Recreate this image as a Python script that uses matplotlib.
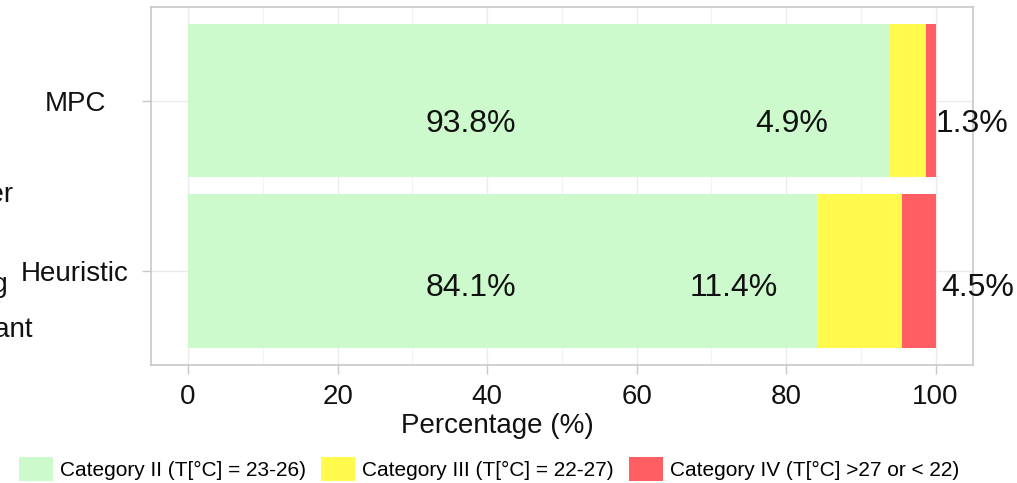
import matplotlib
matplotlib.use("Agg")
import matplotlib.pyplot as plt
from matplotlib.patches import Patch
import numpy as np

# ---- data ----
controllers = ["Heuristic", "MPC"]
cat_ii = [84.1, 93.8]
cat_iii = [11.4, 4.9]
cat_iv = [4.5, 1.3]
series_labels = ["Category II (T[°C] = 23-26)",
                 "Category III (T[°C] = 22-27)",
                 "Category IV (T[°C] >27 or < 22)"]
series_colors = ["#CCFACC", "#FFFA4B", "#FF5E62"]
# positions of the value labels (as in the original chart)
label_x = {"Heuristic": [37.8, 73.0, 105.6], "MPC": [37.8, 80.7, 104.9]}
label_dy = {"Heuristic": -0.1, "MPC": -0.14}

plt.rcParams['font.family'] = ['Liberation Sans', 'DejaVu Sans']

W, H = 1017, 483
fig = plt.figure(figsize=(W / 100, H / 100), dpi=100)
ax = fig.add_axes([150.7 / W, 1 - 365 / H, (973 - 150.7) / W, (365 - 6.7) / H])

y = np.arange(1, len(controllers) + 1)
series = [cat_ii, cat_iii, cat_iv]
left = np.zeros(len(controllers))
for vals, col in zip(series, series_colors):
    ax.barh(y, vals, left=left, height=0.9, color=col, zorder=2, linewidth=0)
    left += np.array(vals)

for i, c in enumerate(controllers):
    for j, vals in enumerate(series):
        ax.text(label_x[c][j], y[i] + label_dy[c], f"{vals[i]:.1f}%",
                ha='center', va='center', fontsize=23, color='#111111', zorder=5,
                clip_on=False)

ax.set_xlim(-5, 105)
ax.set_ylim(0.45, 2.55)
ax.set_xticks([0, 20, 40, 60, 80, 100])
ax.set_xticks([10, 30, 50, 70, 90], minor=True)
ax.set_yticks(y)
ax.set_yticklabels(controllers)

ax.grid(True, which='major', color='#ebebeb', linewidth=1.0, zorder=0)
ax.grid(True, which='minor', axis='x', color='#f3f3f3', linewidth=0.8, zorder=0)
ax.set_axisbelow(True)
for s in ax.spines.values():
    s.set_color('#c8c8c8')
    s.set_linewidth(1.2)
    s.set_zorder(1)

ax.tick_params(axis='both', which='major', length=6.5, width=1.0, color='#c8c8c8',
               labelsize=20, labelcolor='#111111')
ax.tick_params(axis='x', which='major', pad=7)
ax.tick_params(axis='x', which='minor', length=0)
ax.tick_params(axis='y', which='major', pad=48)
for lab in ax.get_yticklabels():
    lab.set_horizontalalignment('center')

ax.set_xlabel("Percentage (%)", fontsize=20, color='#111111')
ax.xaxis.set_label_coords((497 - 150.7) / (973 - 150.7), (365 - 426) / (365 - 6.7))
ax.xaxis.label.set_va('center')

# partially visible y-axis title (cut off at the left edge in the original)
fig.text(14 / W, 1 - 202 / H, "Controller", ha='right', va='baseline', fontsize=20, color='#111111')
fig.text(8 / W, 1 - 292 / H, "Building", ha='right', va='baseline', fontsize=20, color='#111111')
fig.text(33 / W, 1 - 337 / H, "Occupant", ha='right', va='baseline', fontsize=20, color='#111111')

handles = [Patch(facecolor=c, edgecolor='none') for c in series_colors]
fs = 15
fig.legend(handles, series_labels, loc='center', ncol=3,
           bbox_to_anchor=(489 / W, 1 - 469 / H), frameon=False, fontsize=fs,
           handlelength=1.63, handleheight=1.45, handletextpad=0.33,
           columnspacing=0.75, borderaxespad=0, borderpad=0)

fig.savefig("out.png", dpi=100)
